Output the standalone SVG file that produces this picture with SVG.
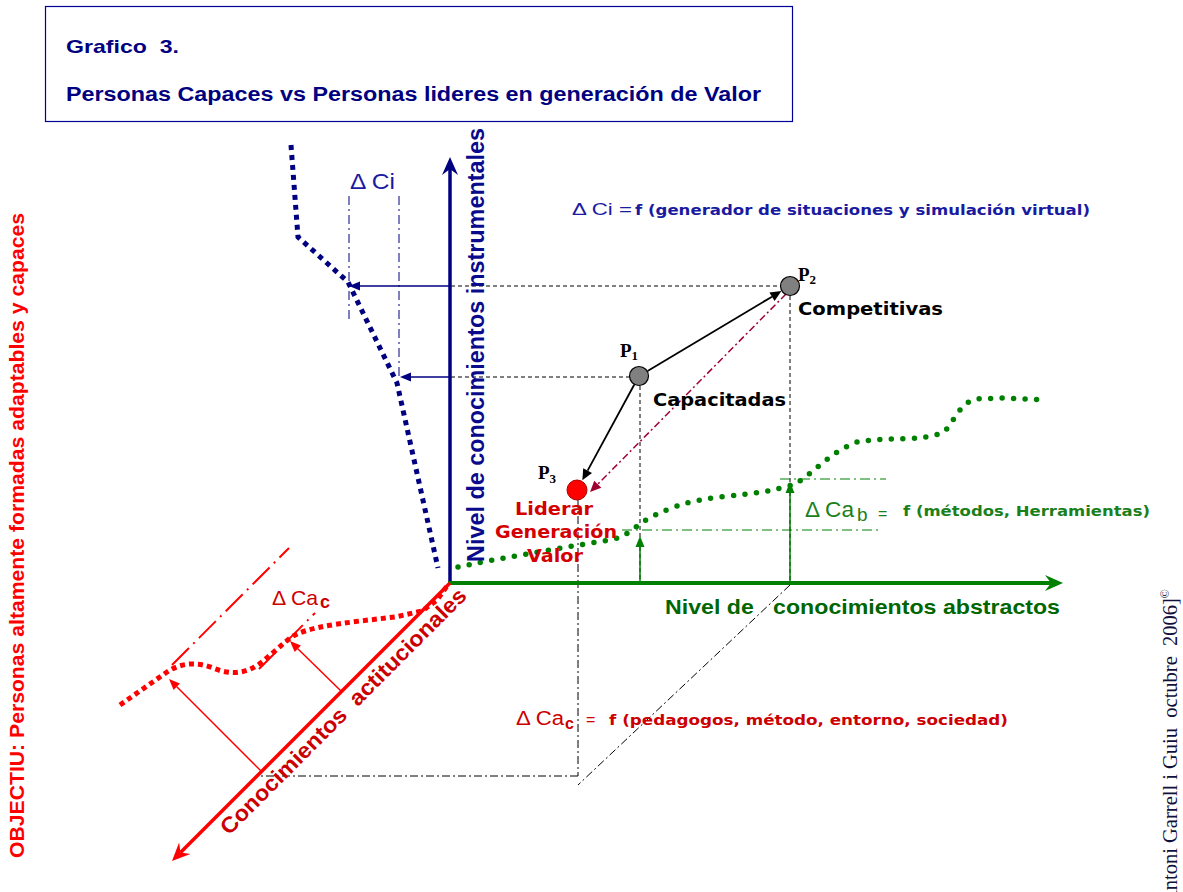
<svg xmlns="http://www.w3.org/2000/svg" width="1183" height="892" viewBox="0 0 1183 892">
<style>
text{white-space:pre}
.sans{font-family:"Liberation Sans",Arial,sans-serif}
.vb{font-family:"DejaVu Sans",Verdana,sans-serif;font-weight:bold}
.serif{font-family:"Liberation Serif","Times New Roman",serif}
.b{font-weight:bold}
.dash{fill:none;stroke:#000;stroke-width:1;stroke-dasharray:4 3}
.dd{fill:none;stroke:#000;stroke-width:1;stroke-dasharray:8 3 2 3}
.gdd{fill:none;stroke:#008000;stroke-width:1;stroke-dasharray:10 4 2 4}
.bdd{fill:none;stroke:#000080;stroke-width:1;stroke-dasharray:9 4 2 4}
.rdd{fill:none;stroke:#ff0000;stroke-width:2;stroke-dasharray:24 6 2 6}
.pnode{stroke:#000;stroke-width:1.2}
</style>
<defs>
<marker id="stB" markerUnits="userSpaceOnUse" orient="auto" overflow="visible" markerWidth="1" markerHeight="1"><path d="M12,0 L-6,-8 L0,0 L-6,8 Z" fill="#000080"/></marker>
<marker id="stG" markerUnits="userSpaceOnUse" orient="auto" overflow="visible" markerWidth="1" markerHeight="1"><path d="M12,0 L-6,-8 L0,0 L-6,8 Z" fill="#008000"/></marker>
<marker id="stR" markerUnits="userSpaceOnUse" orient="auto" overflow="visible" markerWidth="1" markerHeight="1"><path d="M12,0 L-6,-8 L0,0 L-6,8 Z" fill="#ff0000"/></marker>
<marker id="arB" markerUnits="userSpaceOnUse" orient="auto" overflow="visible" markerWidth="1" markerHeight="1"><path d="M0,-4.5 L11,0 L0,4.5 Z" fill="#000080"/></marker>
<marker id="arG" markerUnits="userSpaceOnUse" orient="auto" overflow="visible" markerWidth="1" markerHeight="1"><path d="M0,-4.5 L11,0 L0,4.5 Z" fill="#008000"/></marker>
<marker id="arR" markerUnits="userSpaceOnUse" orient="auto" overflow="visible" markerWidth="1" markerHeight="1"><path d="M0,-4.5 L11,0 L0,4.5 Z" fill="#ff0000"/></marker>
<marker id="arK" markerUnits="userSpaceOnUse" orient="auto" overflow="visible" markerWidth="1" markerHeight="1"><path d="M0,-5 L11,0 L0,5 Z" fill="#000"/></marker>
<marker id="arD" markerUnits="userSpaceOnUse" orient="auto" overflow="visible" markerWidth="1" markerHeight="1"><path d="M0,-5 L11,0 L0,5 Z" fill="#a00030"/></marker>
</defs>
<rect width="1183" height="892" fill="#fff"/>

<g id="title">
<rect x="45.5" y="6.5" width="747" height="115" fill="#fff" stroke="#000099" stroke-width="1.2"/>
<text class="sans b" x="66" y="53" font-size="19" fill="#000080" textLength="113" lengthAdjust="spacingAndGlyphs">Grafico  3.</text>
<text class="sans b" x="66" y="101" font-size="19.5" fill="#000080" textLength="695" lengthAdjust="spacingAndGlyphs">Personas Capaces vs Personas lideres en generación de Valor</text>
</g>

<g id="objective">
<text class="sans b" transform="translate(24,858) rotate(-90)" font-size="20.5" fill="#ff0000" textLength="645" lengthAdjust="spacingAndGlyphs">OBJECTIU: Personas altamente formadas adaptables y capaces</text>
</g>

<g id="credit">
<text class="serif" transform="translate(1177,905) rotate(-90)" font-size="20.5" fill="#10103a">Antoni Garrell i Guiu  octubre  2006]<tspan font-size="12" dy="-8">©</tspan></text>
</g>

<g id="curves">
<path d="M291,145 L298,237 L348,282 L397,383 L438,568" fill="none" stroke="#000080" stroke-width="5" stroke-dasharray="5 5"/>
<path d="M458,567 C490,560 560,548 610,540 C625,537 632,530 640,524 C660,510 690,500 720,497 C750,494 775,491 795,484 C815,472 832,450 860,441 L887,439 C910,439 935,438 945,431 C955,420 960,403 976,399 L1000,398 L1046,400" fill="none" stroke="#008000" stroke-width="5.5" stroke-linecap="round" stroke-dasharray="0 11.5"/>
<path d="M120,705 L167,672 C182,662 198,662 213,668 C232,676 248,673 262,662 L290,638 C305,628 330,625 360,621 L395,617 L422,611 L437,600 L447,586" fill="none" stroke="#ff0000" stroke-width="5" stroke-dasharray="5 4"/>
</g>

<g id="connectors">
<line class="dash" x1="451" y1="286" x2="781" y2="286"/>
<line class="dash" x1="451" y1="377" x2="630" y2="377"/>
<line class="dash" x1="790" y1="296" x2="790" y2="583"/>
<line class="dash" x1="640" y1="386" x2="640" y2="583"/>
<line class="dd" x1="578" y1="500" x2="578" y2="776"/>
<line class="dd" x1="578" y1="776" x2="260" y2="776"/>
<line class="dd" x1="790" y1="585" x2="578" y2="785" stroke="#555"/>
<line class="bdd" x1="349" y1="196" x2="349" y2="323"/>
<line class="bdd" x1="399" y1="196" x2="399" y2="377"/>
<line class="gdd" x1="622" y1="530" x2="880" y2="530"/>
<line class="gdd" x1="780" y1="479" x2="886" y2="479"/>
<line class="rdd" x1="172" y1="665" x2="289" y2="548"/>
<line class="rdd" x1="259" y1="669" x2="315" y2="613" stroke-width="1.6" stroke-dasharray="16 22 2 30"/>
<line x1="450" y1="583" x2="450" y2="169" stroke="#000080" stroke-width="3.5" marker-end="url(#stB)"/>
<line x1="448" y1="583" x2="1051" y2="583" stroke="#008000" stroke-width="4" marker-end="url(#stG)"/>
<line x1="450" y1="583" x2="180.5" y2="852.5" stroke="#ff0000" stroke-width="3.5" marker-end="url(#stR)"/>
<line x1="450" y1="286" x2="360" y2="286" stroke="#000080" stroke-width="1.5" marker-end="url(#arB)"/>
<line x1="450" y1="377" x2="411" y2="377" stroke="#000080" stroke-width="1.5" marker-end="url(#arB)"/>
<line x1="640" y1="583" x2="640" y2="547" stroke="#008000" stroke-width="1.5" marker-end="url(#arG)"/>
<line x1="790" y1="583" x2="790" y2="493" stroke="#008000" stroke-width="1.5" marker-end="url(#arG)"/>
<line x1="261" y1="771" x2="176.8" y2="686.8" stroke="#ff0000" stroke-width="1.5" marker-end="url(#arR)"/>
<line x1="341" y1="691" x2="297.8" y2="648.8" stroke="#ff0000" stroke-width="1.5" marker-end="url(#arR)"/>
<line x1="647.6" y1="370.9" x2="772" y2="296.7" stroke="#000" stroke-width="1.8" marker-end="url(#arK)"/>
<line x1="634.2" y1="384.8" x2="587.6" y2="470.6" stroke="#000" stroke-width="1.8" marker-end="url(#arK)"/>
<line x1="786" y1="294" x2="597.8" y2="484.2" stroke="#a00030" stroke-width="1.5" stroke-dasharray="7 3 2 3" marker-end="url(#arD)"/>
</g>

<g id="axis-labels">
<text class="sans b" transform="translate(484,562) rotate(-90)" font-size="23" fill="#0a0a8c" textLength="434" lengthAdjust="spacingAndGlyphs">Nivel de conocimientos instrumentales</text>
<text class="sans b" x="665" y="614" font-size="20.5" fill="#006600" textLength="395" lengthAdjust="spacingAndGlyphs">Nivel de   conocimientos abstractos</text>
<text class="sans b" transform="translate(229,836) rotate(-45)" font-size="22" fill="#cc0000" textLength="338" lengthAdjust="spacingAndGlyphs">Conocimientos  actitucionales</text>
</g>

<g id="delta-ci">
<text class="sans" x="350" y="189" font-size="22" fill="#1a1aa0" textLength="45" lengthAdjust="spacingAndGlyphs">Δ Ci</text>
<text class="sans" x="572" y="215" font-size="17" fill="#1a1aa0" textLength="60" lengthAdjust="spacingAndGlyphs">Δ Ci =</text>
<text class="vb" x="635" y="215" font-size="14" fill="#1a1aa0" textLength="455" lengthAdjust="spacingAndGlyphs">f (generador de situaciones y simulación virtual)</text>
</g>

<g id="delta-cab">
<text class="sans" x="805" y="517" font-size="22" fill="#1a801a" textLength="49" lengthAdjust="spacingAndGlyphs">Δ Ca</text>
<text class="sans" x="857" y="521" font-size="19" fill="#1a801a">b</text>
<text class="sans" x="878" y="519" font-size="16" fill="#1a801a">=</text>
<text class="vb" x="903" y="516" font-size="14" fill="#1a801a" textLength="247" lengthAdjust="spacingAndGlyphs">f (métodos, Herramientas)</text>
</g>

<g id="delta-cac">
<text class="sans" x="272" y="605" font-size="21" fill="#cc0000" textLength="46" lengthAdjust="spacingAndGlyphs">Δ Ca</text>
<text class="sans b" x="320" y="608" font-size="18" fill="#cc0000">c</text>
<text class="sans" x="516" y="725" font-size="20" fill="#cc0000" textLength="48" lengthAdjust="spacingAndGlyphs">Δ Ca</text>
<text class="sans b" x="565" y="729" font-size="16" fill="#cc0000">c</text>
<text class="sans" x="586" y="725" font-size="16" fill="#cc0000">=</text>
<text class="vb" x="609" y="725" font-size="14" fill="#cc0000" textLength="399" lengthAdjust="spacingAndGlyphs">f (pedagogos, método, entorno, sociedad)</text>
</g>

<g id="P1">
<circle class="pnode" cx="639" cy="376" r="9.5" fill="#808080"/>
<text class="serif b" x="620" y="357" font-size="19">P<tspan font-size="13" dy="3">1</tspan></text>
<text class="vb" x="653" y="406" font-size="17.5" fill="#000" textLength="133" lengthAdjust="spacingAndGlyphs">Capacitadas</text>
</g>

<g id="P2">
<circle class="pnode" cx="790" cy="286" r="9.5" fill="#808080"/>
<text class="serif b" x="798" y="281" font-size="19">P<tspan font-size="13" dy="3">2</tspan></text>
<text class="vb" x="798" y="315" font-size="17.5" fill="#000" textLength="145" lengthAdjust="spacingAndGlyphs">Competitivas</text>
</g>

<g id="P3">
<circle cx="577" cy="490" r="10" fill="#ff0000" stroke="#aa0000" stroke-width="1"/>
<text class="serif b" x="538" y="479" font-size="19">P<tspan font-size="13" dy="4">3</tspan></text>
<text class="vb" x="554" y="515" font-size="17.5" fill="#d40000" text-anchor="middle" textLength="78" lengthAdjust="spacingAndGlyphs">Liderar</text>
<text class="vb" x="556" y="538" font-size="17.5" fill="#d40000" text-anchor="middle" textLength="122" lengthAdjust="spacingAndGlyphs">Generación</text>
<text class="vb" x="555" y="562" font-size="17.5" fill="#d40000" text-anchor="middle" textLength="56" lengthAdjust="spacingAndGlyphs">Valor</text>
</g>
</svg>
